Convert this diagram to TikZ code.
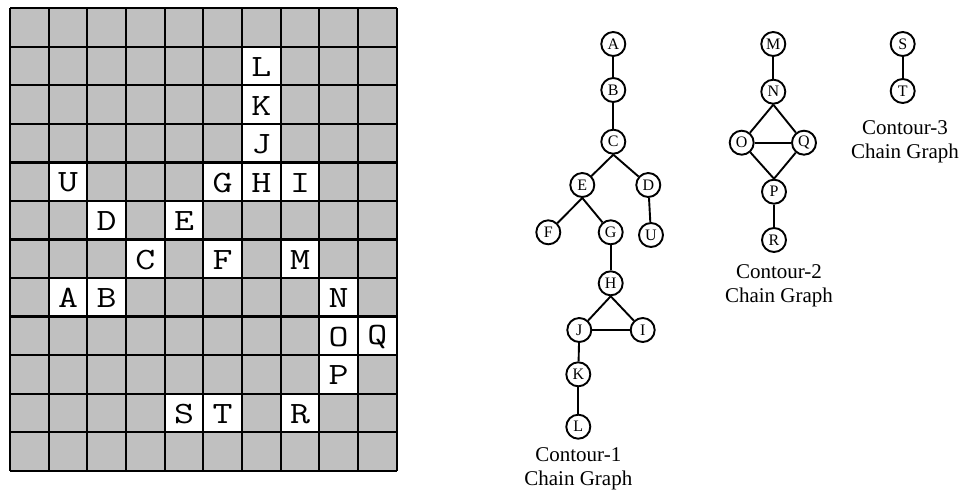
\documentclass[tikz,border=0pt]{standalone}
\usepackage{fontspec}
\usepackage{graphicx}
\setmainfont{Liberation Serif}
\newcommand{\wideletter}[1]{\scalebox{1.25}[1]{#1}}
\begin{document}
\begin{tikzpicture}[x=1pt,y=-1pt,
  gridline/.style={line width=2.2pt,black},
  cellletter/.style={inner sep=0pt,font=\ttfamily\fontsize{31}{31}\selectfont},
  vtx/.style={circle,draw,line width=1.9pt,minimum size=24pt,inner sep=0pt,fill=white,
    font=\fontsize{16}{16}\selectfont},
  edge/.style={line width=1.9pt},
  caption/.style={align=center,font=\fontsize{21}{24}\selectfont}]
\useasboundingbox (0,0) rectangle (964,493);
\def\cw{38.67}
\def\ch{38.53}
% board background
\fill[fill={rgb,255:red,192;green,192;blue,192}] (10,8.3) rectangle (396.7,470.7);
% labelled (white) cells
\foreach \c/\r/\t in {6/1/L,6/2/K,6/3/J,1/4/U,5/4/G,6/4/H,7/4/I,2/5/D,4/5/E,
                      3/6/C,5/6/F,7/6/M,1/7/A,2/7/B,8/7/N,8/8/O,9/8/Q,8/9/P,
                      4/10/S,5/10/T,7/10/R}{
  \fill[white] ({10+\c*\cw},{8.3+\r*\ch}) rectangle ++(\cw,\ch);
  \node[cellletter] (cell\t) at ({10+(\c+0.5)*\cw},{8.3+(\r+0.5)*\ch+1}) {\wideletter{\t}};
}
% grid lines
\foreach \i in {0,...,10}
  \draw[gridline] ({10+\i*\cw},8.3) -- ({10+\i*\cw},470.7);
\foreach \j in {0,...,12}
  \draw[gridline] (10,{8.3+\j*\ch}) -- (396.7,{8.3+\j*\ch});

% contour 1 chain graph
\node[vtx] (A) at (613.3,44) {A};
\node[vtx] (B) at (613.3,90) {B};
\node[vtx] (C) at (613.3,141.7) {C};
\node[vtx] (E) at (582.3,185) {E};
\node[vtx] (D) at (648.3,185) {D};
\node[vtx] (F) at (548.3,232.3) {F};
\node[vtx] (G) at (610.7,232.3) {G};
\node[vtx] (U) at (651,235) {U};
\node[vtx] (H) at (610.7,283.3) {H};
\node[vtx] (J) at (579.3,330) {J};
\node[vtx] (I) at (642.7,330) {I};
\node[vtx] (K) at (578.3,374.3) {K};
\node[vtx] (L) at (578.3,426.7) {L};
\draw[edge] (A) -- (B);
\draw[edge] (B) -- (C);
\draw[edge] (C.south) -- (E);
\draw[edge] (C.south) -- (D);
\draw[edge] (D) -- (U);
\draw[edge] (E.south) -- (F);
\draw[edge] (E.south) -- (G);
\draw[edge] (G) -- (H);
\draw[edge] (H.south) -- (J);
\draw[edge] (H.south) -- (I);
\draw[edge] (J) -- (I);
\draw[edge] (J) -- (K);
\draw[edge] (K) -- (L);
\node[caption] (cap1) at (578.3,469) {Contour-1\\Chain Graph};

% contour 2 chain graph
\node[vtx] (M) at (773.3,44) {M};
\node[vtx] (N) at (773.3,91.7) {N};
\node[vtx] (O) at (741.7,142.7) {O};
\node[vtx] (Q) at (804,142.7) {Q};
\node[vtx] (P) at (774,191.7) {P};
\node[vtx] (R) at (774,240) {R};
\draw[edge] (M) -- (N);
\draw[edge] (N.south) -- (O);
\draw[edge] (N.south) -- (Q);
\draw[edge] (O) -- (Q);
\draw[edge] (O) -- (P.north);
\draw[edge] (Q) -- (P.north);
\draw[edge] (P) -- (R);
\node[caption] (cap2) at (779,286) {Contour-2\\Chain Graph};

% contour 3 chain graph
\node[vtx] (S) at (902.7,44) {S};
\node[vtx] (T) at (902.7,91) {T};
\draw[edge] (S) -- (T);
\node[caption] (cap3) at (905,142) {Contour-3\\Chain Graph};
\end{tikzpicture}
\end{document}
